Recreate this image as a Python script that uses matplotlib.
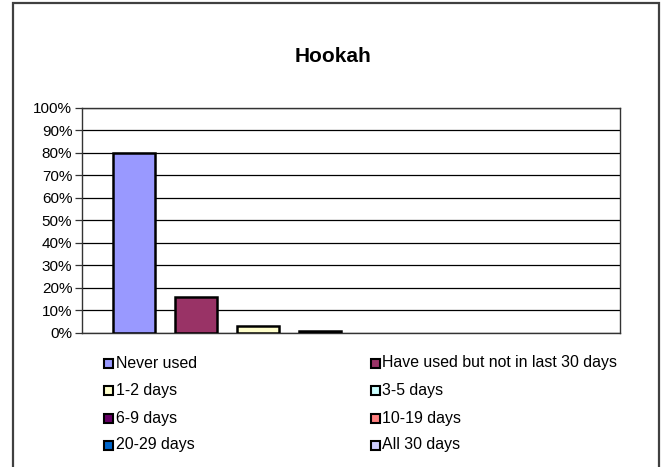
import matplotlib
matplotlib.use("Agg")
import matplotlib.pyplot as plt
from matplotlib.patches import Rectangle
import numpy as np

plt.rcParams['font.family'] = ['Liberation Sans', 'DejaVu Sans']

title = "Hookah"
categories = ["Never used", "Have used but not in last 30 days", "1-2 days", "3-5 days",
              "6-9 days", "10-19 days", "20-29 days", "All 30 days"]
values = [80, 16, 3, 1, 0, 0, 0, 0]
colors = ["#9999FF", "#993366", "#FFFFCC", "#CCFFFF", "#660066", "#FF8080", "#0066CC", "#CCCCFF"]
yticks = [0, 10, 20, 30, 40, 50, 60, 70, 80, 90, 100]
ytick_labels = [f"{v}%" for v in yticks]

W, H = 666, 467
fig = plt.figure(figsize=(W / 100, H / 100), dpi=100)

# outer frame
fig.add_artist(Rectangle((12.5 / W, -0.05), (658.5 - 12.5) / W, 1.05 - 2.5 / H,
                         transform=fig.transFigure, fill=False, edgecolor="#404040", lw=1.6))

L, R, T, B = 82, 620, 107.5, 333
ax = fig.add_axes([L / W, 1 - B / H, (R - L) / W, (B - T) / H])

x = np.arange(len(values))
span = (R - L) / 62.0
ax.set_xlim(3.5 - span / 2, 3.5 + span / 2)
ax.set_ylim(0, 100)
ax.set_yticks(yticks)
ax.set_yticklabels(ytick_labels, fontsize=11)
ax.set_xticks([])
ax.yaxis.grid(True, color="black", lw=0.9)
ax.set_axisbelow(True)
ax.tick_params(axis="y", length=5, width=0.9, pad=2, color="#333333")
for s in ax.spines.values():
    s.set_color("#333333")
    s.set_linewidth(1.0)

for i, (v, c) in enumerate(zip(values, colors)):
    if v > 0:
        ax.bar(x[i], v, width=42 / 62, color=c, edgecolor="black", linewidth=1.8, zorder=3)

fig.text(333.5 / W, 1 - 56 / H, title, ha="center", va="center", fontsize=15, fontweight="bold")

# legend
col_x = [104, 371]
row_y = [363, 390, 418, 445]
msize = 9
for i, (name, c) in enumerate(zip(categories, colors)):
    cx = col_x[i % 2]
    cy = row_y[i // 2]
    fig.add_artist(Rectangle((cx / W, 1 - (cy + msize / 2) / H), msize / W, msize / H,
                             transform=fig.transFigure, facecolor=c, edgecolor="black", lw=1.5))
    fig.text((cx + msize + 2.5) / W, 1 - cy / H, name, ha="left", va="center", fontsize=11.4)

fig.savefig("out.png", dpi=100)
